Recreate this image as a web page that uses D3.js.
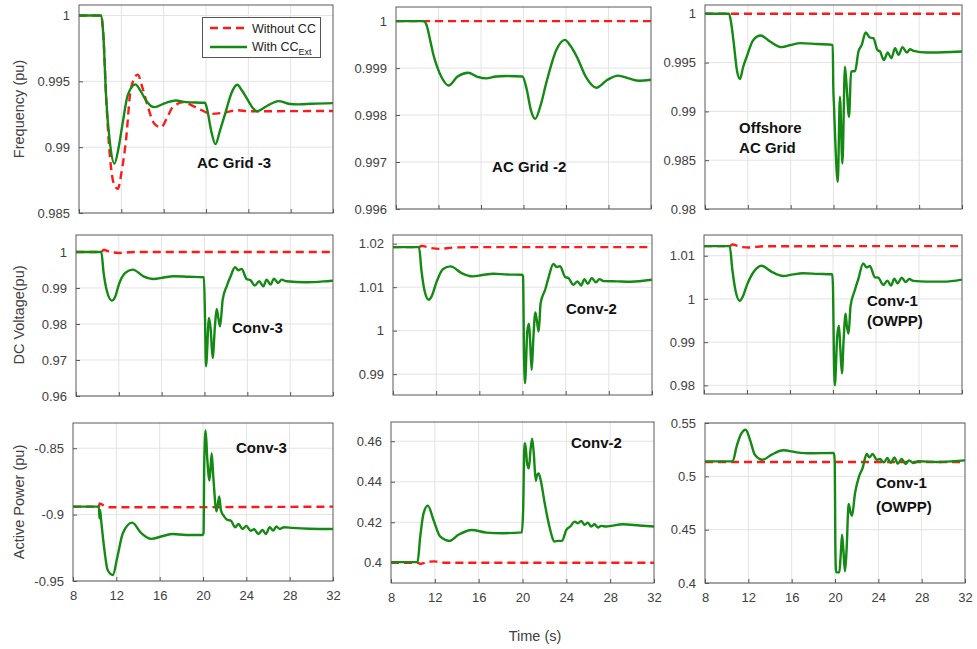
<!DOCTYPE html>
<html>
<head>
<meta charset="utf-8">
<script src="https://cdn.jsdelivr.net/npm/d3@7"></script>
<style>
  html, body { margin: 0; padding: 0; background: #fff; }
  svg { display: block; font-family: "Liberation Sans", Arial, Helvetica, sans-serif; }
</style>
</head>
<body>
<svg id="chart" width="977" height="649"></svg>
<script>
// ---------------- DATA ----------------
const timeTicks = [8, 12, 16, 20, 24, 28, 32];
const seriesNames = ["Without CC", "With CC"];

// Row 1: Frequency (pu)
const freqGrid3Without = [[8,1],[10.1,1],[10.3,0.9985],[10.57,0.9937],[10.9,0.9895],[11.3,0.9872],[11.67,0.98684],[12.0,0.988],[12.45,0.9906],[12.9,0.99444],[13.55,0.99551],[14.0,0.9945],[14.5,0.9931],[15.1,0.9918],[15.75,0.9915],[16.3,0.9922],[16.85,0.99303],[17.9,0.99342],[18.6,0.9932],[19.35,0.9929],[20.6,0.99253],[21.85,0.99265],[23,0.9928],[24,0.99273],[32,0.99275]];
const freqGrid3With = [[8,1],[10.1,1],[10.3,0.9985],[10.57,0.9937],[10.9,0.9905],[11.35,0.98875],[11.75,0.99],[12.14,0.9919],[12.6,0.99393],[13.33,0.99477],[13.8,0.9943],[14.33,0.99355],[15.1,0.99304],[16.2,0.99337],[17.15,0.99355],[18.1,0.99342],[19.9,0.99337],[20.1,0.9929],[20.5,0.9912],[20.9,0.99023],[21.3,0.9912],[21.85,0.99265],[22.4,0.9941],[22.95,0.99474],[23.4,0.9943],[23.9,0.99365],[24.4,0.993],[24.83,0.99273],[25.3,0.9929],[25.8,0.99315],[26.87,0.9935],[27.8,0.9933],[28.75,0.99325],[30,0.9933],[32,0.99335]];
const freqGrid2Without = [[8,1],[32,1]];
const freqGrid2With = [[8,1],[10.6,1],[10.9,0.9999],[11.2,0.99961],[11.5,0.9993],[11.85,0.99904],[12.3,0.9988],[12.94,0.99863],[13.8,0.99882],[14.8,0.9989],[15.6,0.99882],[16.5,0.99878],[17.4,0.99882],[18.4,0.99883],[19.9,0.99882],[20.3,0.99855],[20.7,0.9981],[21.1,0.99792],[21.6,0.9982],[22.15,0.99869],[23.1,0.99939],[23.9,0.9996],[24.4,0.99948],[25,0.99925],[25.9,0.9988],[26.85,0.99858],[27.9,0.99875],[28.9,0.99884],[29.9,0.99878],[30.9,0.99873],[32,0.99875]];
const freqOffshoreWithout = [[8,1],[32,1]];
const freqOffshoreWith = [[8,1],[10.25,1],[10.45,0.999],[10.65,0.99733],[11.0,0.99408],[11.27,0.99332],[11.55,0.9945],[11.9,0.99562],[12.5,0.9973],[13.2,0.99777],[14.07,0.99716],[15.17,0.99658],[16.0,0.9968],[16.9,0.99699],[18.45,0.9969],[19.93,0.99682],[19.98,0.9925],[20.05,0.9905],[20.15,0.9874],[20.4,0.98277],[20.6,0.9915],[20.83,0.98466],[21.07,0.99459],[21.2,0.993],[21.45,0.98945],[21.64,0.99408],[22.02,0.99414],[22.33,0.99613],[22.64,0.99682],[23.0,0.99808],[23.4,0.99757],[23.72,0.9975],[24.1,0.9963],[24.35,0.99613],[24.7,0.99527],[25.07,0.99603],[25.4,0.99545],[25.75,0.99647],[26.07,0.99579],[26.44,0.99658],[26.85,0.99603],[27.15,0.99637],[27.47,0.9962],[28.7,0.99603],[30.27,0.99606],[32,0.99613]];

// Row 2: DC Voltage (pu)
const vdcConv3Without = [[8,1],[10.36,1],[10.6,1.0006],[11.0,1.0002],[12,0.9997],[13,0.9999],[14,1],[32,1]];
const vdcConv3With = [[8,1],[10.36,1],[10.58,0.99417],[10.89,0.98907],[11.35,0.98648],[11.65,0.9875],[12.0,0.99093],[12.6,0.99417],[13.3,0.99509],[14.3,0.99324],[15.24,0.9925],[16.2,0.9929],[17.1,0.99324],[18.5,0.9931],[19.95,0.99296],[20.05,0.9812],[20.14,0.96824],[20.42,0.98167],[20.58,0.97843],[20.76,0.97056],[20.98,0.9796],[21.14,0.98417],[21.3,0.9815],[21.45,0.97935],[21.7,0.98676],[22.07,0.99046],[22.44,0.99324],[22.85,0.99574],[23.16,0.99491],[23.47,0.99528],[23.93,0.9925],[24.3,0.99213],[24.7,0.99065],[25.1,0.99185],[25.5,0.99046],[25.8,0.99231],[26.17,0.99093],[26.48,0.9926],[26.88,0.9914],[27.2,0.99231],[27.66,0.99185],[29.5,0.99157],[31.7,0.99194],[32,0.992]];
const vdcConv2Without = [[8,1.0192],[10.41,1.0192],[10.63,1.0195],[11.5,1.019],[12.3,1.0188],[13.5,1.0191],[15,1.0192],[32,1.0192]];
const vdcConv2With = [[8,1.0192],[10.41,1.0192],[10.63,1.014],[10.94,1.009],[11.31,1.00711],[11.6,1.008],[12.0,1.01094],[12.64,1.0142],[13.33,1.01478],[14.35,1.01325],[15.37,1.01248],[16.3,1.0128],[17.3,1.01309],[18.6,1.0129],[19.95,1.01286],[20.05,1.0125],[20.14,0.99483],[20.23,0.98792],[20.45,1.0],[20.6,1.00158],[20.7,0.9979],[20.85,0.991],[21.0,0.998],[21.19,1.00419],[21.32,1.0025],[21.5,0.99982],[21.68,1.00634],[22.1,1.00941],[22.4,1.0121],[22.86,1.01532],[23.17,1.01463],[23.48,1.0148],[23.95,1.01233],[24.25,1.0121],[24.72,1.01056],[25.1,1.01133],[25.43,1.0104],[25.74,1.01186],[26.05,1.01079],[26.42,1.0121],[26.8,1.0111],[27.13,1.01186],[27.5,1.0114],[28.74,1.01133],[30,1.01125],[32,1.01171]];
const vdcConv1Without = [[8,1.01223],[10.39,1.01223],[10.64,1.0126],[11.5,1.012],[12.2,1.0119],[13.5,1.0122],[32,1.01223]];
const vdcConv1With = [[8,1.01223],[10.39,1.01223],[10.64,1.0067],[10.95,1.00171],[11.32,0.99956],[11.6,1.0005],[12.0,1.00325],[12.63,1.0063],[13.34,1.0077],[14.27,1.00632],[15.36,1.00532],[16.3,1.0057],[17.22,1.00593],[18.6,1.0058],[19.93,1.0057],[20.0,1.0029],[20.08,0.98751],[20.17,0.97999],[20.39,0.99135],[20.55,0.99381],[20.67,0.98905],[20.83,0.98276],[20.99,0.99058],[21.17,0.99657],[21.29,0.99365],[21.45,0.99197],[21.63,0.99826],[22.04,1.0021],[22.35,1.00455],[22.81,1.00823],[23.12,1.00731],[23.43,1.00762],[23.9,1.005],[24.2,1.00494],[24.68,1.00325],[25.05,1.00424],[25.4,1.00309],[25.7,1.0047],[26.01,1.00363],[26.39,1.00494],[26.76,1.00394],[27.1,1.00463],[27.47,1.00417],[28.7,1.004],[30.27,1.004],[32,1.00447]];

// Row 3: Active Power (pu)
const pConv3Without = [[8,-0.894],[10.39,-0.894],[10.45,-0.8915],[10.9,-0.8935],[11.5,-0.8945],[32,-0.894]];
const pConv3With = [[8,-0.894],[10.39,-0.894],[10.44,-0.9028],[10.5,-0.8965],[10.6,-0.9045],[10.9,-0.9266],[11.2,-0.9417],[11.68,-0.9455],[12.1,-0.9317],[12.6,-0.914],[13.46,-0.906],[14.3,-0.914],[15.2,-0.9183],[16.3,-0.9161],[17.2,-0.9146],[18.43,-0.9153],[19.96,-0.9153],[20.05,-0.914],[20.12,-0.8593],[20.24,-0.8367],[20.4,-0.8588],[20.6,-0.8744],[20.8,-0.8538],[20.95,-0.8714],[21.25,-0.8975],[21.5,-0.8864],[21.65,-0.8965],[21.96,-0.9015],[22.26,-0.904],[22.57,-0.9045],[22.97,-0.9095],[23.28,-0.907],[23.64,-0.9108],[24.0,-0.9085],[24.4,-0.9121],[24.72,-0.911],[25.1,-0.9146],[25.5,-0.9116],[25.8,-0.9146],[26.16,-0.9095],[26.47,-0.912],[26.77,-0.909],[27.1,-0.9108],[27.48,-0.9095],[28.25,-0.91],[29.8,-0.9106],[32,-0.9108]];
const pConv2Without = [[8,0.4],[10.42,0.4],[10.67,0.3994],[11.3,0.4004],[11.9,0.4007],[13,0.4],[32,0.4]];
const pConv2With = [[8,0.4003],[10.42,0.4003],[10.67,0.413],[10.97,0.4244],[11.36,0.4282],[11.88,0.4211],[12.48,0.413],[13.33,0.4108],[14.15,0.4138],[15.36,0.4162],[16.7,0.4149],[18.24,0.4146],[19.94,0.415],[20.06,0.4261],[20.18,0.4589],[20.25,0.4589],[20.42,0.449],[20.58,0.4466],[20.73,0.4556],[20.88,0.4613],[21.03,0.4539],[21.21,0.4405],[21.33,0.4433],[21.48,0.4441],[21.66,0.4408],[22.03,0.4293],[22.42,0.4187],[22.94,0.4105],[23.24,0.4108],[23.6,0.4108],[24.0,0.4162],[24.36,0.4179],[24.76,0.4203],[25.06,0.4195],[25.36,0.4207],[25.67,0.4187],[25.97,0.4198],[26.27,0.4179],[26.58,0.419],[26.88,0.4174],[27.18,0.4182],[27.64,0.4179],[29.15,0.419],[30.67,0.4184],[32,0.4179]];
const pConv1Without = [[8,0.5134],[32,0.5134]];
const pConv1With = [[8,0.514],[10.55,0.514],[10.92,0.5281],[11.3,0.5391],[11.75,0.5437],[12.15,0.5344],[12.6,0.5203],[13.32,0.5156],[14.15,0.5203],[15.23,0.5244],[16.46,0.5225],[17.7,0.5216],[19.9,0.5219],[19.98,0.5125],[20.03,0.4375],[20.1,0.41],[20.4,0.41],[20.52,0.425],[20.65,0.4453],[20.77,0.4313],[20.92,0.4109],[21.07,0.4313],[21.26,0.4741],[21.45,0.4656],[21.57,0.4631],[21.85,0.4844],[22.22,0.5],[22.55,0.5078],[22.92,0.5209],[23.17,0.5178],[23.48,0.5209],[23.85,0.5156],[24.15,0.5163],[24.52,0.5131],[24.83,0.5172],[25.14,0.5125],[25.48,0.5178],[25.8,0.5119],[26.15,0.5163],[26.52,0.5116],[26.83,0.515],[27.23,0.5125],[27.7,0.5141],[29.4,0.5134],[30.9,0.5141],[32,0.515]];

// Y tick labels per panel
const yTicksFreq3 = [0.985, 0.99, 0.995, 1];
const yTicksFreq2 = [0.996, 0.997, 0.998, 0.999, 1];
const yTicksFreqOff = [0.98, 0.985, 0.99, 0.995, 1];
const yTicksVdc3 = [0.96, 0.97, 0.98, 0.99, 1];
const yTicksVdc2 = [0.99, 1, 1.01, 1.02];
const yTicksVdc1 = [0.98, 0.99, 1, 1.01];
const yTicksP3 = [-0.95, -0.9, -0.85];
const yTicksP2 = [0.4, 0.42, 0.44, 0.46];
const yTicksP1 = [0.4, 0.45, 0.5, 0.55];

// ---------------- LAYOUT ----------------
const panels = [
  {box:[79,333,5,213],   dom:[0.985,1.0008], ticks:yTicksFreq3,   red:freqGrid3Without,   green:freqGrid3With,   labels:[{t:19.15,v:0.98842,s:"AC Grid -3"}]},
  {box:[396,651,7,209],  dom:[0.996,1.0003], ticks:yTicksFreq2,   red:freqGrid2Without,   green:freqGrid2With,   labels:[{t:17.04,v:0.99679,s:"AC Grid -2"}]},
  {box:[705,962,5,209],  dom:[0.98,1.0009],  ticks:yTicksFreqOff, red:freqOffshoreWithout,green:freqOffshoreWith,labels:[{t:11.18,v:0.98779,s:"Offshore"},{t:11.18,v:0.98574,s:"AC Grid"}]},
  {box:[76,333,235,396], dom:[0.96,1.0047],  ticks:yTicksVdc3,    red:vdcConv3Without,    green:vdcConv3With,    labels:[{t:22.57,v:0.9775,s:"Conv-3"}]},
  {box:[393,652,235,395],dom:[0.9852,1.022], ticks:yTicksVdc2,    red:vdcConv2Without,    green:vdcConv2With,    labels:[{t:24.03,v:1.00383,s:"Conv-2"}]},
  {box:[704,962,235,394],dom:[0.978,1.0148], ticks:yTicksVdc1,    red:vdcConv1Without,    green:vdcConv1With,    labels:[{t:23.16,v:0.99837,s:"Conv-1"},{t:23.16,v:0.99374,s:"(OWPP)"}]},
  {box:[73,333,423,581], dom:[-0.95,-0.831], ticks:yTicksP3,      red:pConv3Without,      green:pConv3With,      labels:[{t:23.05,v:-0.8536,s:"Conv-3"}], xlab:true},
  {box:[391,654,422,583],dom:[0.39,0.4695],  ticks:yTicksP2,      red:pConv2Without,      green:pConv2With,      labels:[{t:24.43,v:0.4567,s:"Conv-2"}], xlab:true},
  {box:[705,965,423,583],dom:[0.4,0.55],     ticks:yTicksP1,      red:pConv1Without,      green:pConv1With,      labels:[{t:23.78,v:0.4891,s:"Conv-1"},{t:23.78,v:0.4666,s:"(OWPP)"}], xlab:true}
];

const GREEN = "#148a14", RED = "#ff1a1a";
const svg = d3.select("#chart");
const fmt = v => String(+v.toFixed(4));

panels.forEach((p, i) => {
  const [x0, x1, y0, y1] = p.box;
  const x = d3.scaleLinear().domain([8, 32]).range([x0, x1]);
  const y = d3.scaleLinear().domain(p.dom).range([y1, y0]);
  const g = svg.append("g");
  const clipId = "clip" + i;
  svg.append("clipPath").attr("id", clipId).append("rect")
    .attr("x", x0).attr("y", y0).attr("width", x1 - x0).attr("height", y1 - y0);

  // grid
  g.selectAll(".vg").data(timeTicks.slice(1, -1)).join("line")
    .attr("x1", d => x(d)).attr("x2", d => x(d)).attr("y1", y0).attr("y2", y1)
    .attr("stroke", "#e3e3e3").attr("stroke-width", 1);
  g.selectAll(".hg").data(p.ticks).join("line")
    .attr("x1", x0).attr("x2", x1).attr("y1", d => y(d)).attr("y2", d => y(d))
    .attr("stroke", "#e3e3e3").attr("stroke-width", 1);

  // axes (inward ticks like MATLAB)
  const yAxis = d3.axisLeft(y).tickValues(p.ticks).tickSize(-4).tickPadding(9).tickFormat(fmt);
  const ga = g.append("g").attr("transform", `translate(${x0},0)`).call(yAxis);
  const xAxis = d3.axisBottom(x).tickValues(timeTicks).tickSize(-4).tickPadding(10)
    .tickFormat(p.xlab ? d3.format("d") : "");
  const gx = g.append("g").attr("transform", `translate(0,${y1})`).call(xAxis);
  [ga, gx].forEach(a => {
    a.select(".domain").remove();
    a.selectAll(".tick line").attr("stroke", "#555");
    a.selectAll("text").attr("fill", "#404040").style("font-size", "13px")
      .style("font-family", '"Liberation Sans", Arial, sans-serif');
  });

  // lines
  const line = d3.line().x(d => x(d[0])).y(d => y(d[1])).curve(d3.curveMonotoneX);
  const lg = g.append("g").attr("clip-path", `url(#${clipId})`);
  lg.append("path").datum(p.red).attr("d", line).attr("fill", "none")
    .attr("stroke", RED).attr("stroke-width", 2.4).attr("stroke-dasharray", "8,5");
  lg.append("path").datum(p.green).attr("d", line).attr("fill", "none")
    .attr("stroke", GREEN).attr("stroke-width", 2.4).attr("stroke-linejoin", "round");

  // box
  g.append("rect").attr("x", x0).attr("y", y0).attr("width", x1 - x0).attr("height", y1 - y0)
    .attr("fill", "none").attr("stroke", "#5a5a5a").attr("stroke-width", 1);

  // annotations
  g.selectAll(".ann").data(p.labels).join("text")
    .attr("x", d => x(d.t)).attr("y", d => y(d.v))
    .attr("font-size", 15).attr("font-weight", "bold").attr("fill", "#111")
    .text(d => d.s);
});

// Legend in panel 1
const lgd = svg.append("g");
lgd.append("rect").attr("x", 202.5).attr("y", 17.5).attr("width", 118).attr("height", 40)
  .attr("fill", "#fff").attr("stroke", "#555").attr("stroke-width", 1);
lgd.append("line").attr("x1", 210).attr("x2", 247).attr("y1", 28).attr("y2", 28)
  .attr("stroke", RED).attr("stroke-width", 2.4).attr("stroke-dasharray", "8,5");
lgd.append("line").attr("x1", 210).attr("x2", 247).attr("y1", 47).attr("y2", 47)
  .attr("stroke", GREEN).attr("stroke-width", 2.4);
lgd.append("text").attr("x", 252).attr("y", 32.5).attr("font-size", 12.5).attr("fill", "#222").text(seriesNames[0]);
const t2 = lgd.append("text").attr("x", 252).attr("y", 51).attr("font-size", 12.5).attr("fill", "#222");
t2.append("tspan").text(seriesNames[1]);
t2.append("tspan").attr("dy", 4).attr("font-size", 9).text("Ext");

// Axis titles
const titles = [
  {s: "Frequency (pu)", cy: 109},
  {s: "DC Voltage(pu)", cy: 315},
  {s: "Active Power (pu)", cy: 502}
];
svg.selectAll(".yt").data(titles).join("text")
  .attr("transform", d => `translate(24,${d.cy}) rotate(-90)`)
  .attr("text-anchor", "middle").attr("font-size", 14.5).attr("fill", "#404040")
  .text(d => d.s);
svg.append("text").attr("x", 535).attr("y", 641).attr("text-anchor", "middle")
  .attr("font-size", 14.5).attr("fill", "#404040").text("Time (s)");
</script>
</body>
</html>
